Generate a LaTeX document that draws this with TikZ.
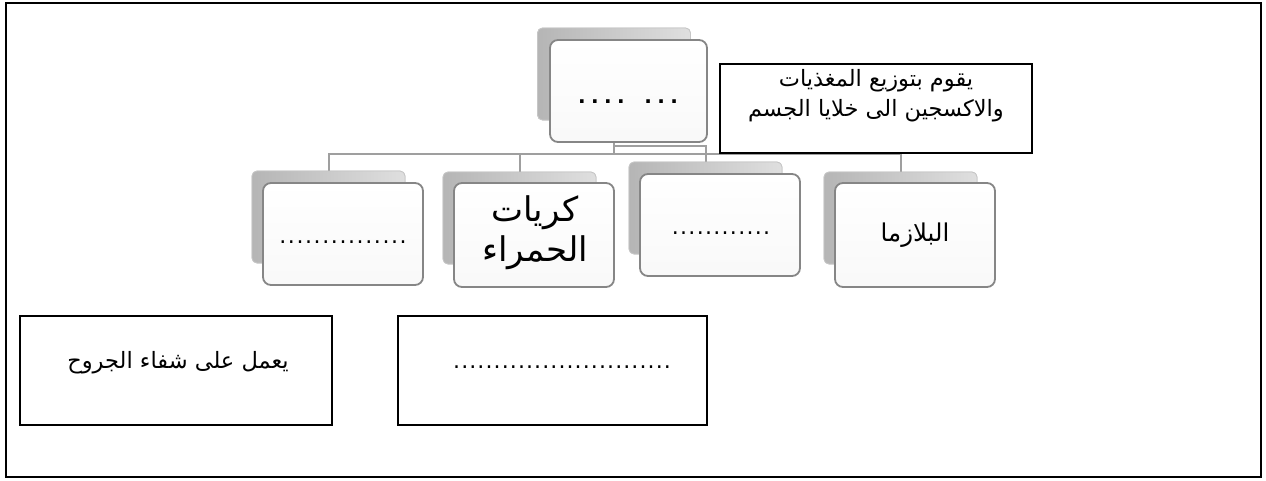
\documentclass[tikz,border=0pt]{standalone}
\usepackage{fontspec}
\newfontfamily\arabicfont[Script=Arabic]{DejaVu Sans}
\newfontfamily\dotfont{DejaVu Sans}
\TeXXeTstate=1
\newcommand\dotrow[2]{\foreach \k in {1,...,#1}{\makebox[#2][c]{.}}}
\begin{document}
\begin{tikzpicture}[x=1pt,y=-1pt,
  backcard/.style={rectangle, rounded corners=5pt, minimum width=153pt, minimum height=92pt,
    left color=gray!58, right color=gray!25, draw=gray!45, line width=0.8pt, inner sep=0pt},
  frontcard/.style={rectangle, rounded corners=8pt, minimum width=160pt, minimum height=102pt,
    top color=white, bottom color=gray!5, draw=gray!95, line width=1.8pt, inner sep=0pt},
  textbox/.style={rectangle, draw=black, line width=2pt, fill=white, inner sep=0pt},
  conn/.style={draw=gray!75, line width=2pt},
  artext/.style={font=\arabicfont\fontsize{22.5}{30}\selectfont, align=center, inner sep=0pt},
  plasmatext/.style={font=\arabicfont\fontsize{24.5}{30}\selectfont, align=center, inner sep=0pt},
  bigtext/.style={font=\arabicfont\fontsize{34}{40}\selectfont, align=center, inner sep=0pt},
  dottext/.style={font=\dotfont\fontsize{22}{24}\selectfont, inner sep=0pt},
  bolddots/.style={font=\dotfont\bfseries\fontsize{20}{24}\selectfont, inner sep=0pt}
]
\useasboundingbox (0,0) rectangle (1266,480);
\draw[line width=2pt] (6,3) rectangle (1261,477);

% back cards
\node[backcard] (pb) at (614,74) {};
\node[backcard] (b1) at (328.5,217) {};
\node[backcard] (b2) at (519.5,218) {};
\node[backcard] (b3) at (705.5,208) {};
\node[backcard] (b4) at (900.5,218) {};

% connectors
\coordinate (bar) at (0,154);
\coordinate (mid) at (0,146);
\draw[conn] (pb.south) -- (pb.south |- bar);
\draw[conn] (b1.north) |- (b4.north |- bar) -- (b4.north);
\draw[conn] (b2.north) -- (b2.north |- bar);
\draw[conn] (pb.south |- mid) -| (b3.north);

% redraw back cards over connectors
\node[backcard] at (pb) {};
\node[backcard] at (b1) {};
\node[backcard] at (b2) {};
\node[backcard] at (b3) {};
\node[backcard] at (b4) {};

% front cards
\node[frontcard, minimum width=157pt] (pf) at (628.5,91) {};
\node[frontcard] (f1) at (343,234) {};
\node[frontcard, minimum height=104pt] (f2) at (534,235) {};
\node[frontcard] (f3) at (720,225) {};
\node[frontcard, minimum height=104pt] (f4) at (915,235) {};

% card texts
\node[bolddots] (tp) at (628,102) {\dotrow{4}{13pt}\hspace{14.3pt}\dotrow{3}{13pt}};
\node[dottext] (t1) at (343,242) {\dotrow{15}{8.6pt}};
\node[bigtext] (t2) at (535,233) {\beginR كريات\endR\\\beginR الحمراء\endR};
\node[dottext] (t3) at (721,233) {\dotrow{12}{8.3pt}};
\node[plasmatext] (t4) at (915,235) {\beginR البلازما\endR};

% text boxes
\node[textbox, minimum width=312pt, minimum height=89pt] (n1) at (876,108.5) {};
\node[artext] (n1t) at (876,96) {\beginR يقوم بتوزيع المغذيات\endR\\\beginR والاكسجين الى خلايا الجسم\endR};

\node[textbox, minimum width=312pt, minimum height=109pt] (n2) at (176,370.5) {};
\node[artext] (n2t) at (178,363) {\beginR يعمل على شفاء الجروح\endR};

\node[textbox, minimum width=309pt, minimum height=109pt] (n3) at (552.5,370.5) {};
\node[dottext] (n3t) at (562,367) {\dotrow{27}{8.1pt}};
\end{tikzpicture}
\end{document}
